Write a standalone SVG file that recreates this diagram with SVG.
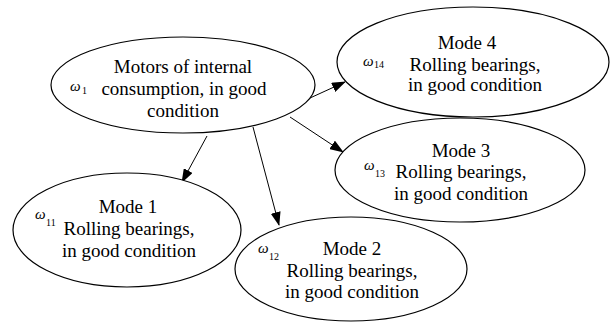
<svg xmlns="http://www.w3.org/2000/svg" width="611" height="323" viewBox="0 0 611 323">
<style>
.n{fill:#fff;stroke:#000;stroke-width:1.2}
.t{font-family:"Liberation Serif","Times New Roman",serif;font-size:19px;fill:#000;text-anchor:middle}
.w{font-family:"Liberation Serif","Times New Roman",serif;font-size:15px;font-style:italic;fill:#000}
.s{font-family:"Liberation Serif","Times New Roman",serif;font-size:10px;fill:#000}
.c{stroke:#000;stroke-width:1;fill:none;marker-end:url(#a)}
</style>
<defs>
<marker id="a" markerWidth="14" markerHeight="10" refX="13" refY="5" orient="auto" markerUnits="userSpaceOnUse">
<path d="M0,0 L14,5 L0,10 Z" fill="#000"/>
</marker>
</defs>
<rect width="611" height="323" fill="#fff"/>
<g id="connectors">
<line class="c" x1="207" y1="136" x2="182" y2="182"/>
<line class="c" x1="253" y1="127" x2="279" y2="225"/>
<line class="c" x1="290" y1="117" x2="343" y2="152"/>
<line class="c" x1="310" y1="98" x2="345" y2="82"/>
</g>
<g id="motors">
<ellipse class="n" cx="183" cy="85" rx="132" ry="48"/>
<text class="t" x="183" y="73">Motors of internal</text>
<text class="t" x="184" y="95">consumption, in good</text>
<text class="t" x="183" y="117">condition</text>
<text class="w" x="70" y="91">ω</text><text class="s" x="82" y="94">1</text>
</g>
<g id="mode4">
<ellipse class="n" cx="473" cy="62" rx="136" ry="55"/>
<text class="t" x="467" y="49">Mode 4</text>
<text class="t" x="475" y="71">Rolling bearings,</text>
<text class="t" x="475" y="91">in good condition</text>
<text class="w" x="363" y="66">ω</text><text class="s" x="374" y="68">14</text>
</g>
<g id="mode3">
<ellipse class="n" cx="460" cy="170" rx="125" ry="52"/>
<text class="t" x="461" y="157">Mode 3</text>
<text class="t" x="461" y="178">Rolling bearings,</text>
<text class="t" x="461" y="200">in good condition</text>
<text class="w" x="364" y="170">ω</text><text class="s" x="375" y="177">13</text>
</g>
<g id="mode1">
<ellipse class="n" cx="127" cy="230" rx="114" ry="57"/>
<text class="t" x="128" y="213">Mode 1</text>
<text class="t" x="129" y="235">Rolling bearings,</text>
<text class="t" x="129" y="257">in good condition</text>
<text class="w" x="35" y="219">ω</text><text class="s" x="46" y="226">11</text>
</g>
<g id="mode2">
<ellipse class="n" cx="351" cy="269" rx="116" ry="52"/>
<text class="t" x="352" y="255">Mode 2</text>
<text class="t" x="352" y="277">Rolling bearings,</text>
<text class="t" x="352" y="298">in good condition</text>
<text class="w" x="258" y="253">ω</text><text class="s" x="269" y="260">12</text>
</g>
</svg>
